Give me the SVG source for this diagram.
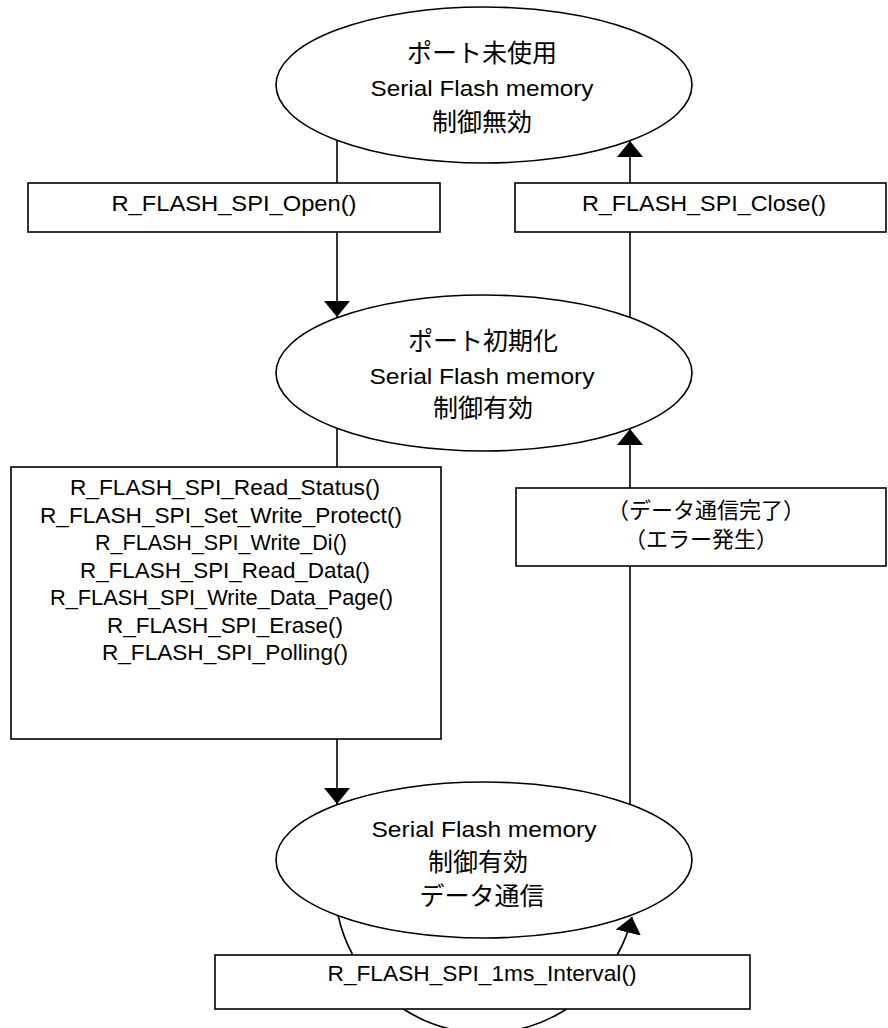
<svg xmlns="http://www.w3.org/2000/svg" width="888" height="1028" viewBox="0 0 888 1028">
<style>
.shape{fill:#fff;stroke:#000;stroke-width:1.6}
.ln{fill:none;stroke:#000;stroke-width:1.6}
.lat{font-family:"Liberation Sans","Noto Sans CJK JP",sans-serif;font-size:22.5px;fill:#000;text-anchor:middle}
.jp{font-family:"Noto Sans CJK JP","Liberation Sans",sans-serif;font-size:25px;fill:#000;text-anchor:middle}
.jpb{font-family:"Noto Sans CJK JP","Liberation Sans",sans-serif;font-size:22px;fill:#000;text-anchor:middle}
</style>
<defs>
<marker id="ah" markerUnits="userSpaceOnUse" viewBox="0 0 16 26" markerWidth="16" markerHeight="26" refX="16" refY="13" orient="auto">
<path d="M0,0 L16,13 L0,26 Z" fill="#000"/>
</marker>
</defs>
<rect width="888" height="1028" fill="#fff"/>
<g id="connectors">
<line class="ln" x1="337" y1="141" x2="337" y2="183"/>
<line class="ln" x1="337" y1="232" x2="337" y2="317" marker-end="url(#ah)"/>
<line class="ln" x1="337" y1="429" x2="337" y2="467"/>
<line class="ln" x1="337" y1="739" x2="337" y2="804" marker-end="url(#ah)"/>
<line class="ln" x1="630" y1="804" x2="630" y2="566"/>
<line class="ln" x1="630" y1="488" x2="630" y2="429" marker-end="url(#ah)"/>
<line class="ln" x1="630" y1="317" x2="630" y2="232"/>
<line class="ln" x1="630" y1="183" x2="630" y2="141" marker-end="url(#ah)"/>
<path class="ln" d="M338,915 A151,151 0 0 0 352.8,955"/>
<path class="ln" d="M403.3,1009 A151,151 0 0 0 566.7,1009"/>
<path class="ln" d="M617.2,955 A151,151 0 0 0 632,917" marker-end="url(#ah)"/>
</g>
<g id="state-unused">
<ellipse class="shape" cx="484" cy="85" rx="208" ry="78"/>
<text class="jp" x="482" y="62">ポート未使用</text>
<text class="lat" x="482" y="96" textLength="223" lengthAdjust="spacingAndGlyphs">Serial Flash memory</text>
<text class="jp" x="482" y="131">制御無効</text>
</g>
<g id="box-open">
<rect class="shape" x="28" y="183" width="412" height="49"/>
<text class="lat" x="234" y="211" textLength="245" lengthAdjust="spacingAndGlyphs">R_FLASH_SPI_Open()</text>
</g>
<g id="box-close">
<rect class="shape" x="515" y="183" width="371" height="49"/>
<text class="lat" x="704" y="211" textLength="244" lengthAdjust="spacingAndGlyphs">R_FLASH_SPI_Close()</text>
</g>
<g id="state-init">
<ellipse class="shape" cx="484" cy="373" rx="208" ry="78"/>
<text class="jp" x="483" y="350">ポート初期化</text>
<text class="lat" x="482" y="384" textLength="225" lengthAdjust="spacingAndGlyphs">Serial Flash memory</text>
<text class="jp" x="483" y="417">制御有効</text>
</g>
<g id="box-api">
<rect class="shape" x="11" y="467" width="430" height="272"/>
<text class="lat" x="225" y="495" textLength="310" lengthAdjust="spacingAndGlyphs">R_FLASH_SPI_Read_Status()</text>
<text class="lat" x="221" y="522.5" textLength="362" lengthAdjust="spacingAndGlyphs">R_FLASH_SPI_Set_Write_Protect()</text>
<text class="lat" x="221" y="550" textLength="252" lengthAdjust="spacingAndGlyphs">R_FLASH_SPI_Write_Di()</text>
<text class="lat" x="225" y="577.5" textLength="290" lengthAdjust="spacingAndGlyphs">R_FLASH_SPI_Read_Data()</text>
<text class="lat" x="221.5" y="605" textLength="343" lengthAdjust="spacingAndGlyphs">R_FLASH_SPI_Write_Data_Page()</text>
<text class="lat" x="225" y="632.5" textLength="236" lengthAdjust="spacingAndGlyphs">R_FLASH_SPI_Erase()</text>
<text class="lat" x="225" y="660" textLength="246" lengthAdjust="spacingAndGlyphs">R_FLASH_SPI_Polling()</text>
</g>
<g id="box-done">
<rect class="shape" x="516" y="488" width="370" height="78"/>
<text class="jpb" x="706" y="518">（データ通信完了）</text>
<text class="jpb" x="701" y="547">（エラー発生）</text>
</g>
<g id="state-comm">
<ellipse class="shape" cx="484" cy="860" rx="208" ry="78"/>
<text class="lat" x="484" y="837" textLength="225" lengthAdjust="spacingAndGlyphs">Serial Flash memory</text>
<text class="jp" x="478" y="871">制御有効</text>
<text class="jp" x="482" y="905">データ通信</text>
</g>
<g id="box-interval">
<rect class="shape" x="215" y="955" width="535" height="54"/>
<text class="lat" x="482" y="981" textLength="309" lengthAdjust="spacingAndGlyphs">R_FLASH_SPI_1ms_Interval()</text>
</g>
</svg>
